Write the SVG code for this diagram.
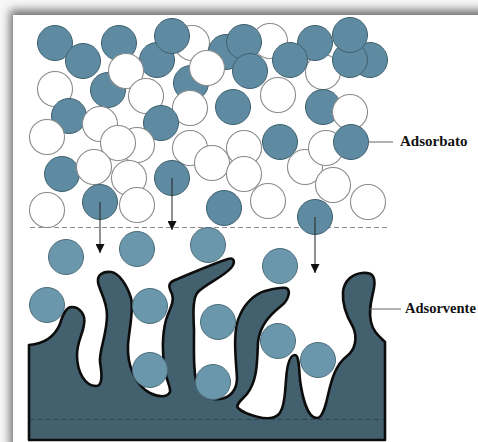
<svg xmlns="http://www.w3.org/2000/svg" width="478" height="442" viewBox="0 0 478 442">
  <defs>
    <filter id="soft" x="-10%" y="-10%" width="120%" height="120%">
      <feGaussianBlur stdDeviation="5"/>
    </filter>
    <marker id="tip" viewBox="0 0 10 10" refX="10" refY="5" markerWidth="9" markerHeight="9" markerUnits="userSpaceOnUse" orient="auto">
      <path d="M0,0 L10,5 L0,10 Z" fill="#111"/>
    </marker>
    <style>
      .fluid { fill: #5e8ba1; stroke: #3e5f6e; stroke-width: 1; }
      .free { fill: #ffffff; stroke: #8a8a8a; stroke-width: 1.1; }
      .held { fill: #6b97ac; stroke: #4d6d7c; stroke-width: 1; }
      .solid { fill: #42606e; stroke: #0d0d0d; stroke-width: 2.6; stroke-linejoin: round; }
      .fall { stroke: #222; stroke-width: 1; fill: none; marker-end: url(#tip); }
      .lead { stroke: #666; stroke-width: 1; fill: none; }
      .label { font-family: "Liberation Serif", "Times New Roman", serif; font-weight: bold; font-size: 15px; fill: #111; }
    </style>
  </defs>

  <!-- page with soft shadow along the top and left edges -->
  <rect x="0" y="0" width="478" height="442" fill="#f7f7f7"/>
  <rect x="10" y="10" width="480" height="440" fill="#6e6e6e" filter="url(#soft)"/>
  <rect x="13" y="15" width="470" height="432" fill="#ffffff"/>

  <!-- boundary of the fluid phase -->
  <line x1="30" y1="227.5" x2="387" y2="227.5" stroke="#8a8a8a" stroke-width="1" stroke-dasharray="5 3"/>

  <!-- fluid phase: mixed particles -->
  <g id="fluid">
    <circle class="free" cx="270" cy="41" r="17.5"/>
    <circle class="free" cx="192" cy="43" r="17.5"/>
    <circle class="free" cx="323" cy="72" r="17.5"/>
    <circle class="fluid" cx="55" cy="43" r="17.5"/>
    <circle class="fluid" cx="83" cy="61" r="17.5"/>
    <circle class="fluid" cx="119" cy="43" r="17.5"/>
    <circle class="fluid" cx="157" cy="60" r="17.5"/>
    <circle class="fluid" cx="172" cy="36" r="17.5"/>
    <circle class="fluid" cx="108" cy="90" r="17.5"/>
    <circle class="fluid" cx="191" cy="83" r="17.5"/>
    <circle class="fluid" cx="226" cy="52" r="17.5"/>
    <circle class="fluid" cx="244" cy="42" r="17.5"/>
    <circle class="fluid" cx="250" cy="71" r="17.5"/>
    <circle class="fluid" cx="315" cy="43" r="17.5"/>
    <circle class="fluid" cx="290" cy="60" r="17.5"/>
    <circle class="fluid" cx="370" cy="60" r="17.5"/>
    <circle class="fluid" cx="350" cy="60" r="17.5"/>
    <circle class="fluid" cx="350" cy="35" r="17.5"/>
    <circle class="free" cx="126" cy="71" r="17.5"/>
    <circle class="free" cx="207" cy="68" r="17.5"/>
    <circle class="free" cx="55" cy="89" r="17.5"/>
    <circle class="free" cx="146" cy="96" r="17.5"/>
    <circle class="free" cx="278" cy="95" r="17.5"/>
    <circle class="fluid" cx="323" cy="107" r="17.5"/>
    <circle class="free" cx="350" cy="112" r="17.5"/>
    <circle class="free" cx="190" cy="108" r="17.5"/>
    <circle class="fluid" cx="233" cy="107" r="17.5"/>
    <circle class="fluid" cx="69" cy="116" r="17.5"/>
    <circle class="fluid" cx="161" cy="123" r="17.5"/>
    <circle class="free" cx="100" cy="124" r="17.5"/>
    <circle class="free" cx="47" cy="137" r="17.5"/>
    <circle class="free" cx="137" cy="145" r="17.5"/>
    <circle class="free" cx="118" cy="143" r="17.5"/>
    <circle class="free" cx="190" cy="148" r="17.5"/>
    <circle class="free" cx="212" cy="163" r="17.5"/>
    <circle class="free" cx="244" cy="148" r="17.5"/>
    <circle class="free" cx="244" cy="174" r="17.5"/>
    <circle class="fluid" cx="280" cy="142" r="17.5"/>
    <circle class="free" cx="305" cy="167" r="17.5"/>
    <circle class="free" cx="326" cy="148" r="17.5"/>
    <circle class="free" cx="333" cy="185" r="17.5"/>
    <circle class="fluid" cx="351" cy="142" r="17.5"/>
    <circle class="free" cx="129" cy="178" r="17.5"/>
    <circle class="fluid" cx="62" cy="174" r="17.5"/>
    <circle class="free" cx="94" cy="167" r="17.5"/>
    <circle class="fluid" cx="172" cy="178" r="17.5"/>
    <circle class="free" cx="47" cy="210" r="17.5"/>
    <circle class="free" cx="137" cy="205" r="17.5"/>
    <circle class="fluid" cx="100" cy="202" r="17.5"/>
    <circle class="fluid" cx="224" cy="208" r="17.5"/>
    <circle class="free" cx="268" cy="201" r="17.5"/>
    <circle class="free" cx="368" cy="202" r="17.5"/>
    <circle class="fluid" cx="315" cy="217" r="17.5"/>
  </g>

  <!-- porous solid -->
  <g id="adsorvente">
    <path class="solid" d="M29,440 L29,345
      C42,344 54,338 60,324 C63,314 66,307 72,307 C79,307 86,314 84,324
      C83,334 77,342 77,355 C77,372 85,386 96,386 C103,386 102,374 100,362
      C99,350 107,335 107,315 C107,300 99,290 98,282 C97,275 103,271 111,272
      C119,273 127,285 131,298 C134,310 129,330 128,345 C127,365 135,385 150,393
      C158,397 167,398 170,392 C171,387 166,380 165,370 C162,355 162,335 166,320
      C169,310 175,302 172,294 C169,288 167,283 175,280 C190,274 212,264 228,259
      C234,257 236,262 231,268 C223,277 206,284 198,292 C193,297 193,310 194,330
      C194,350 193,375 198,388 C202,396 210,400 220,399 C230,398 237,390 237,378
      C236,360 232,330 240,315 C245,303 255,294 265,291 C273,289 280,287 286,288
      C291,290 289,300 281,306 C270,315 260,325 258,342 C257,360 258,380 247,394
      C243,399 235,404 238,408 C242,412 250,415 258,417 C266,419 274,419 279,414
      C284,408 285,395 286,380 C287,365 290,355 295,355 C299,355 299,368 300,380
      C302,395 307,418 317,418 C323,418 326,404 328,395 C331,382 335,365 347,356
      C355,350 358,338 353,327 C347,317 342,305 343,292 C344,281 352,274 362,273
      C372,272 376,276 374,288 C372,298 368,310 371,322 C373,332 380,337 385,342
      L385,440 Z"/>
    <line x1="30" y1="419.5" x2="384" y2="419.5" stroke="#2b4250" stroke-width="1" stroke-dasharray="5 3"/>
  </g>

  <!-- particles approaching and held in the pores -->
  <g id="adsorbato">
    <circle class="held" cx="66" cy="257" r="17.5"/>
    <circle class="held" cx="137" cy="249" r="17.5"/>
    <circle class="held" cx="208" cy="245" r="17.5"/>
    <circle class="held" cx="280" cy="266" r="17.5"/>
    <circle class="held" cx="47" cy="305" r="17.5"/>
    <circle class="held" cx="150" cy="306" r="17.5"/>
    <circle class="held" cx="218" cy="322" r="17.5"/>
    <circle class="held" cx="278" cy="341" r="17.5"/>
    <circle class="held" cx="318" cy="360" r="17.5"/>
    <circle class="held" cx="150" cy="370" r="17.5"/>
    <circle class="held" cx="213" cy="382" r="17.5"/>
  </g>

  <!-- connectors: motion arrows and label leaders -->
  <g id="connectors">
    <line class="fall" x1="100" y1="202" x2="100" y2="253"/>
    <line class="fall" x1="172" y1="178" x2="172" y2="230"/>
    <line class="fall" x1="315" y1="217" x2="315" y2="273"/>
    <line class="lead" x1="368" y1="142" x2="393" y2="142"/>
    <line class="lead" x1="370" y1="309" x2="401" y2="309"/>
  </g>

  <g id="labels">
    <text class="label" x="400" y="146">Adsorbato</text>
    <text class="label" x="405" y="313" style="font-size:14.5px">Adsorvente</text>
  </g>
</svg>
